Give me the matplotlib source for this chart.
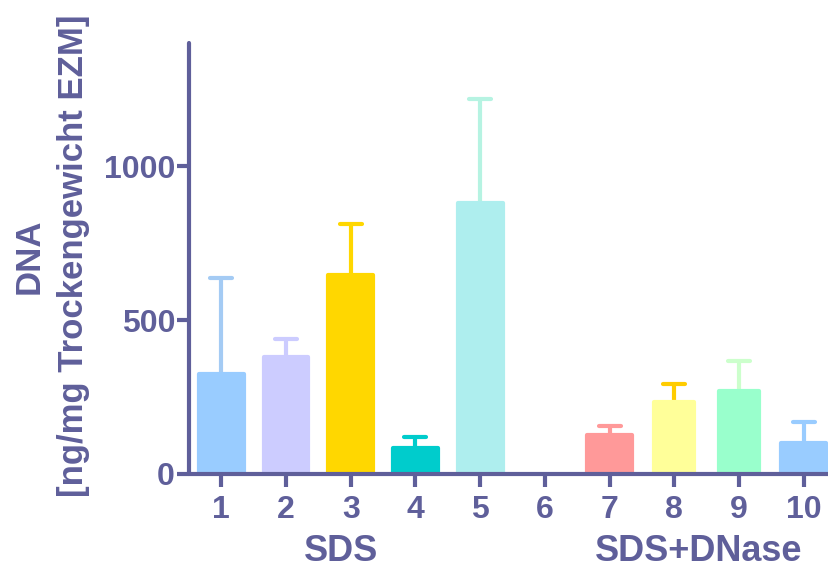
import matplotlib

matplotlib.use("Agg")
from matplotlib import pyplot as plt
from matplotlib import transforms

INK = "#5f5f9a"
FONT = "Liberation Sans"

# data
samples = ["1", "2", "3", "4", "5", "6", "7", "8", "9", "10"]
dna_mean = [324, 379, 646, 85, 880, 0, 127, 234, 271, 101]
dna_sd = [313, 60, 166, 36, 340, 0, 30, 60, 97, 69]
groups = ["SDS", "SDS+DNase"]

# styling
bar_colors = ["#99ccff", "#ccccff", "#ffd700", "#00cccc", "#aeeeee",
              "#ffffff", "#ff9999", "#ffff99", "#99ffcc", "#99ccff"]
err_colors = ["#a4cbf4", "#ccccff", "#ffd700", "#00cccc", "#b6f3e2",
              "#ffffff", "#ff9999", "#ffcc00", "#ccffcc", "#99ccff"]
bar_widths = [0.69, 0.69, 0.69, 0.69, 0.69, 0.69, 0.69, 0.615, 0.615, 0.69]
group_x = [2.85, 8.37]

plt.rcParams["font.family"] = [FONT, "DejaVu Sans"]
plt.rcParams["font.weight"] = "bold"

fig = plt.figure(figsize=(8.29, 5.71), dpi=100, facecolor="white")
ax = fig.add_axes([0.228, 0.1699, 0.7805, 0.754])

x = list(range(1, len(samples) + 1))

# error bars (upper only) behind the bars
for xi, m, sd, c in zip(x, dna_mean, dna_sd, err_colors):
    if m == 0:
        continue
    ax.vlines(xi, m, m + sd, colors=c, linewidth=3, capstyle="round", zorder=0.8)
    ax.hlines(m + sd, xi - 0.17, xi + 0.17, colors=c, linewidth=3,
              capstyle="round", zorder=0.8)

for xi, m, c, w in zip(x, dna_mean, bar_colors, bar_widths):
    if m == 0:
        continue
    ax.bar(xi, m, width=w, color=c, edgecolor=c, linewidth=3,
           joinstyle="round", zorder=1)

ax.set_xlim(0.5, 10.5)
ax.set_ylim(0, 1400)
ax.set_xticks(x)
ax.set_xticklabels(samples)
ax.set_yticks([0, 500, 1000])

for side in ("top", "right"):
    ax.spines[side].set_visible(False)
for side in ("left", "bottom"):
    ax.spines[side].set_color(INK)
    ax.spines[side].set_linewidth(3)
    ax.spines[side].set_capstyle("round")

ax.tick_params(axis="both", colors=INK, length=9, width=3, direction="out",
               labelsize=23, pad=1)
ax.tick_params(axis="x", pad=6)
for lab in ax.get_xticklabels() + ax.get_yticklabels():
    lab.set_fontweight("bold")
    lab.set_color(INK)

# group labels under the tick labels
trans = transforms.blended_transform_factory(ax.transData, fig.transFigure)
for gx, name in zip(group_x, groups):
    ax.text(gx, 0.017, name, transform=trans, ha="center", va="baseline",
            fontsize=26, fontweight="bold", color=INK, clip_on=False)

# two-line y label
fig.text(0.035, 0.552, "DNA", rotation=90, ha="center", va="center",
         fontsize=25, fontweight="bold", color=INK)
fig.text(0.089, 0.552, "[ng/mg Trockengewicht EZM]", rotation=90, ha="center",
         va="center", fontsize=25, fontweight="bold", color=INK)

fig.savefig("out.png", dpi=100, facecolor="white")
plt.close(fig)
